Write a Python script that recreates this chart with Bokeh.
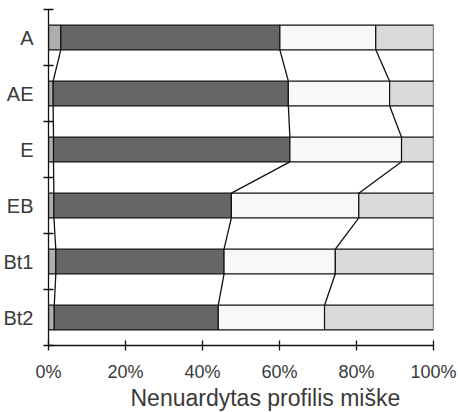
from bokeh.plotting import figure
from bokeh.models import FixedTicker, PrintfTickFormatter, ColumnDataSource, Range1d, Title
from bokeh.embed import file_html
from bokeh.resources import INLINE

categories = ["A", "AE", "E", "EB", "Bt1", "Bt2"]
part1 = [3.2, 1.2, 1.3, 1.4, 1.9, 1.5]
part2 = [56.9, 61.1, 61.4, 46.1, 43.7, 42.6]
part3 = [24.9, 26.3, 29.0, 33.1, 28.9, 27.6]
part4 = [15.0, 11.4, 8.3, 19.4, 25.5, 28.3]
colors = ["#aeaeae", "#666666", "#f8f8f8", "#dadada"]
x_ticks = [0, 20, 40, 60, 80, 100]
x_title = "Nenuardytas profilis miške"

n = len(categories)
pos = [n - i for i in range(n)]  # A at top
H = 0.44

parts = [part1, part2, part3, part4]
cums = []
run = [0.0] * n
for prt in parts:
    left = run[:]
    run = [run[i] + prt[i] for i in range(n)]
    cums.append((left, run[:]))

p = figure(width=458, height=412, output_backend="svg", toolbar_location=None,
           x_range=Range1d(0, 100), y_range=Range1d(0.5, n + 0.5),
           min_border_left=46, min_border_right=25, min_border_top=9, min_border_bottom=63)

for k, (left, right) in enumerate(cums):
    src = ColumnDataSource(dict(y=pos, left=left, right=right))
    p.hbar(y="y", left="left", right="right", height=H, source=src,
           fill_color=colors[k], line_color="#111111", line_width=1.2)

# series lines
for k, (left, right) in enumerate(cums):
    x0 = right[:-1]
    x1 = right[1:]
    y0 = [pos[i] - H / 2 for i in range(n - 1)]
    y1 = [pos[i + 1] + H / 2 for i in range(n - 1)]
    p.segment(x0=x0, y0=y0, x1=x1, y1=y1, line_color="#111111", line_width=1.3)

p.xgrid.visible = False
p.ygrid.visible = False
p.outline_line_color = None

xa = p.xaxis[0]
xa.ticker = FixedTicker(ticks=x_ticks)
xa.formatter = PrintfTickFormatter(format="%d%%")
xa.major_tick_in = 5
xa.major_tick_out = 5
xa.minor_tick_line_color = None
xa.axis_line_color = "#111111"
xa.major_tick_line_color = "#111111"
xa.axis_line_width = 1.3
xa.major_tick_line_width = 1.3
xa.major_label_text_font = "Liberation Sans"
xa.major_label_text_font_size = "18px"
xa.major_label_text_color = "#3a3a3a"
xa.major_label_standoff = 11

t = Title(text=x_title, align="left", offset=82, standoff=0,
          text_font="Liberation Sans", text_font_size="23px",
          text_font_style="normal", text_color="#3a3a3a", vertical_align="top")
p.add_layout(t, "below")

ya = p.yaxis[0]
ya.ticker = FixedTicker(ticks=pos, minor_ticks=[i + 0.5 for i in range(n + 1)])
ya.major_label_overrides = {pos[i]: categories[i] for i in range(n)}
ya.major_tick_line_color = None
ya.major_tick_in = 0
ya.major_tick_out = 0
ya.minor_tick_in = 5
ya.minor_tick_out = 5
ya.minor_tick_line_color = "#111111"
ya.minor_tick_line_width = 1.3
ya.axis_line_color = "#111111"
ya.axis_line_width = 1.3
ya.major_label_text_font = "Liberation Sans"
ya.major_label_text_font_size = "20px"
ya.major_label_text_color = "#3a3a3a"
ya.major_label_standoff = 10

open("out.html", "w").write(file_html(p, INLINE))
